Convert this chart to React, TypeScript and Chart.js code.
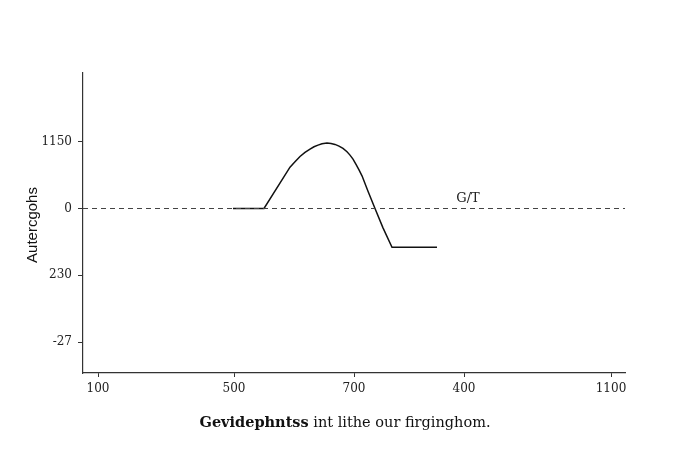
import React, { useEffect, useRef } from "react";
import { Chart, registerables } from "chart.js";

Chart.register(...registerables);

// x positions of the category ticks (arbitrary linear units) and their labels
const xTickPositions = [15, 151, 271, 381, 528];
const xTickLabels = ["100", "500", "700", "400", "1100"];
// y tick slots and their labels
const yTickPositions = [0, 1, 2, 3];
const yTickLabels = ["-27", "230", "0", "1150"];

// main curve
const curveX = [150, 181, 207, 212, 217, 222, 227, 231, 235, 239, 244, 248, 252, 256, 260, 264, 267, 270, 273, 276, 279, 285, 292, 300, 309, 354];
const curveY = [2.0, 2.0, 2.62, 2.7, 2.78, 2.84, 2.89, 2.925, 2.95, 2.97, 2.98, 2.975, 2.96, 2.935, 2.9, 2.85, 2.8, 2.74, 2.66, 2.58, 2.49, 2.26, 2.0, 1.71, 1.42, 1.42];

// reference line
const refX = [0, 542];
const refY = [2, 2];
const refLabel = "G/T";
const refLabelX = 385;

const yTitle = "Autercgohs";
const captionBold = "Gevidephntss";
const captionRest = " int lithe our firginghom.";

export default function App() {
  const ref = useRef<HTMLCanvasElement | null>(null);

  useEffect(() => {
    if (!ref.current) return;
    const labelPlugin = {
      id: "refLabel",
      afterDatasetsDraw(chart: any) {
        const { ctx, scales, chartArea } = chart;
        const px = scales.x.getPixelForValue(refLabelX);
        const py = scales.y.getPixelForValue(refY[0]);
        ctx.save();
        ctx.font = "13px 'DejaVu Serif'";
        ctx.fillStyle = "#222";
        ctx.textAlign = "center";
        ctx.textBaseline = "bottom";
        ctx.fillText(refLabel, px, py - 3);
        // y axis title
        ctx.translate(33, (chartArea.top + chartArea.bottom) / 2 + 2);
        ctx.rotate(-Math.PI / 2);
        ctx.font = "15px 'Liberation Sans'";
        ctx.fillStyle = "#111";
        ctx.textBaseline = "middle";
        ctx.fillText(yTitle, 0, 0);
        ctx.restore();
      },
    };
    const chart = new Chart(ref.current, {
      type: "line",
      data: {
        datasets: [
          {
            data: refX.map((x, i) => ({ x, y: refY[i] })),
            borderColor: "#444",
            borderWidth: 1.2,
            borderDash: [5, 4],
            pointRadius: 0,
            fill: false,
          },
          {
            data: curveX.map((x, i) => ({ x, y: curveY[i] })),
            borderColor: "#111",
            borderWidth: 1.5,
            pointRadius: 0,
            fill: false,
            tension: 0,
          },
        ],
      },
      options: {
        animation: false,
        responsive: false,
        layout: { padding: { left: 0, right: 65, top: 73, bottom: 57 } },
        plugins: {
          legend: { display: false },
          tooltip: { enabled: false },
        },
        scales: {
          x: {
            type: "linear",
            min: 0,
            max: 542,
            afterBuildTicks: (s: any) => {
              s.ticks = xTickPositions.map((v) => ({ value: v }));
            },
            afterFit: (s: any) => {
              s.height = 30;
            },
            ticks: {
              autoSkip: false,
              maxRotation: 0,
              padding: 5,
              color: "#222",
              font: { family: "'DejaVu Serif'", size: 12 },
              callback: (_v: any, i: number) => xTickLabels[i],
            },
            grid: { drawOnChartArea: false, drawTicks: true, tickLength: 4, color: "#333" },
            border: { display: true, color: "#333", width: 1.2 },
          },
          y: {
            type: "linear",
            min: -0.464,
            max: 4.03,
            afterBuildTicks: (s: any) => {
              s.ticks = yTickPositions.map((v) => ({ value: v }));
            },
            afterFit: (s: any) => {
              s.width = 83;
            },
            ticks: {
              autoSkip: false,
              padding: 6,
              color: "#222",
              font: { family: "'DejaVu Serif'", size: 12 },
              callback: (_v: any, i: number) => yTickLabels[i],
            },
            grid: { drawOnChartArea: false, drawTicks: true, tickLength: 5, color: "#333" },
            border: { display: true, color: "#333", width: 1.2 },
          },
        },
      },
      plugins: [labelPlugin],
    });
    return () => chart.destroy();
  }, []);

  return (
    <div style={{ position: "fixed", left: 0, top: 0, width: 690, height: 460, background: "#fff" }}>
      <canvas ref={ref} width={690} height={460} style={{ position: "absolute", left: 0, top: 0 }} />
      <div
        style={{
          position: "absolute",
          left: 0,
          top: 413,
          width: 690,
          textAlign: "center",
          fontFamily: "'DejaVu Serif'",
          fontSize: 14.5,
          color: "#111",
        }}
      >
        <b>{captionBold}</b>
        {captionRest}
      </div>
    </div>
  );
}
